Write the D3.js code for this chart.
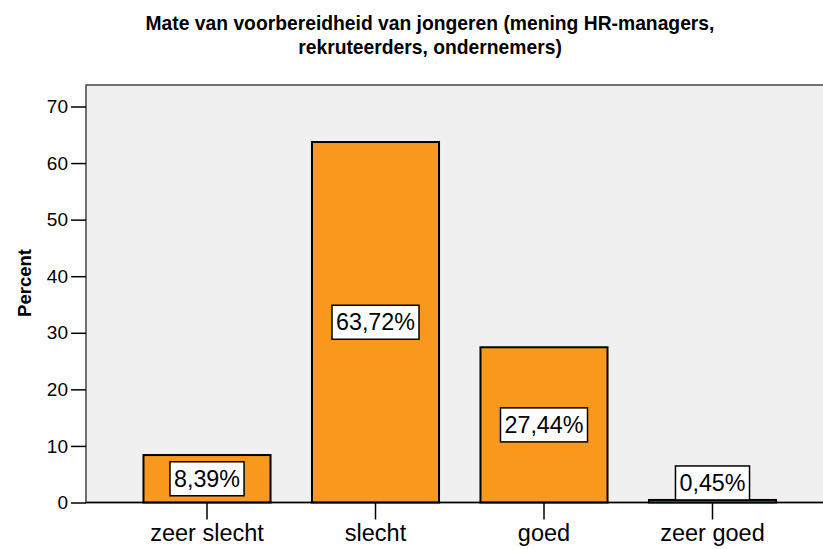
<!DOCTYPE html>
<html>
<head>
<meta charset="utf-8">
<style>
	body { margin: 0; background: #fff; font-family: "Liberation Sans", Arial, sans-serif; }
	svg { display: block; }
	.title { font-size: 19.3px; font-weight: bold; fill: #000; }
	.y-label { font-size: 18.5px; font-weight: bold; }
	.axis path { display: none; }
	.axis line { stroke: #000; stroke-width: 1.5px; }
	.y.axis text { font-size: 19px; fill: #000; }
	.x.axis text { font-size: 23.5px; fill: #000; }
	.bar { fill: #f8991d; stroke: #000; stroke-width: 2px; }
	.label-box { fill: #fff; stroke: #000; stroke-width: 1.5px; }
	.label-text { font-size: 23.3px; fill: #000; }
</style>
</head>
<body>
<script src="https://d3js.org/d3.v7.min.js"></script>
<script>
	var categories = ["zeer slecht", "slecht", "goed", "zeer goed"];
	var percents = [8.39, 63.72, 27.44, 0.45];
	var yTicks = [0, 10, 20, 30, 40, 50, 60, 70];
	var titleLines = ["Mate van voorbereidheid van jongeren (mening HR-managers,", "rekruteerders, ondernemers)"];

	var W = 823, H = 549;
	var plot = {left: 86, top: 85, right: 834, bottom: 502.5};

	var svg = d3.select("body").append("svg")
		.attr("width", W)
		.attr("height", H);

	// title
	svg.append("text")
		.attr("class", "title")
		.attr("text-anchor", "middle")
		.attr("x", 430)
		.attr("y", 30)
		.selectAll("tspan")
		.data(titleLines)
		.enter().append("tspan")
			.attr("x", 430)
			.attr("dy", function(d, i) { return i ? 24 : 0; })
			.text(function(d) { return d; });

	// plot background
	svg.append("rect")
		.attr("x", plot.left)
		.attr("y", plot.top)
		.attr("width", plot.right - plot.left)
		.attr("height", plot.bottom - plot.top)
		.attr("fill", "#f0f0f0")
		.attr("stroke", "#444")
		.attr("stroke-width", 1.5);

	var x = d3.scaleBand()
		.domain(categories)
		.range([plot.left + 36.75, plot.right - 37.25])
		.paddingInner(0.246)
		.paddingOuter(0.123);

	var y = d3.scaleLinear()
		.domain([0, 73.8])
		.range([plot.bottom, plot.top]);

	// bars
	svg.append("g").selectAll("rect")
		.data(percents)
		.enter().append("rect")
			.attr("class", "bar")
			.attr("x", function(d, i) { return x(categories[i]); })
			.attr("y", function(d) { return y(d); })
			.attr("width", x.bandwidth())
			.attr("height", function(d) { return y(0) - y(d); });

	// y axis
	svg.append("g")
		.attr("class", "y axis")
		.attr("transform", "translate(" + plot.left + ",0)")
		.call(d3.axisLeft(y).tickValues(yTicks).tickSize(15).tickPadding(3).tickFormat(d3.format("d")));

	// x axis
	svg.append("g")
		.attr("class", "x axis")
		.attr("transform", "translate(0," + plot.bottom + ")")
		.call(d3.axisBottom(x).tickSize(17).tickPadding(5));

	svg.append("line")
		.attr("x1", plot.left).attr("x2", plot.right)
		.attr("y1", plot.bottom).attr("y2", plot.bottom)
		.attr("stroke", "#000").attr("stroke-width", 1.5);

	// y label
	svg.append("text")
		.attr("class", "y-label")
		.attr("text-anchor", "middle")
		.attr("transform", "translate(31,283) rotate(-90)")
		.text("Percent");

	// value labels
	var fmt = function(d) { return d3.format(".2f")(d).replace(".", ",") + "%"; };
	var boxH = 34;
	percents.forEach(function(d, i) {
		var cx = x(categories[i]) + x.bandwidth() / 2;
		var top = y(d), mid = (y(d) + y(0)) / 2;
		var cy = (y(0) - top) > boxH + 4 ? mid : top - boxH / 2;
		var g = svg.append("g");
		var t = g.append("text")
			.attr("class", "label-text")
			.attr("text-anchor", "middle")
			.attr("x", cx)
			.attr("y", cy + 8)
			.text(fmt(d));
		var bw = t.node().getComputedTextLength() + 8;
		g.insert("rect", "text")
			.attr("class", "label-box")
			.attr("x", cx - bw / 2)
			.attr("y", cy - boxH / 2)
			.attr("width", bw)
			.attr("height", boxH);
	});
</script>
</body>
</html>
